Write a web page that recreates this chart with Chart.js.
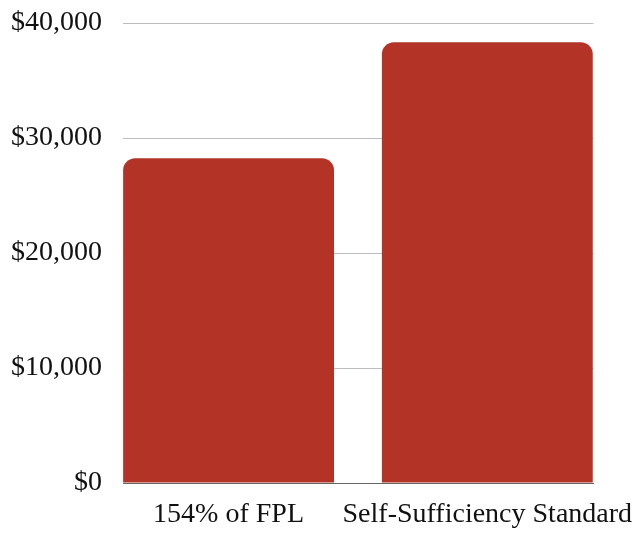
<!DOCTYPE html>
<html>
<head>
<meta charset="utf-8">
<script src="https://cdn.jsdelivr.net/npm/chart.js@4"></script>
<style>
  html, body { margin: 0; padding: 0; background: #ffffff; }
  #wrap { width: 635px; height: 534px; position: relative; }
</style>
</head>
<body>
<div id="wrap"><canvas id="c"></canvas></div>
<script>
const categories = ['154% of FPL', 'Self-Sufficiency Standard'];
const values = [28250, 38320];
const yTicks = [0, 10000, 20000, 30000, 40000];

const FONT = "'Liberation Serif', 'Times New Roman', serif";
const points = categories.map((c, i) => ({ x: i, y: values[i] }));

new Chart(document.getElementById('c'), {
  type: 'bar',
  data: {
    datasets: [{
      data: points,
      backgroundColor: '#b33427',
      borderRadius: { topLeft: 12, topRight: 12, bottomLeft: 0, bottomRight: 0 },
      borderSkipped: false,
      categoryPercentage: 1,
      barPercentage: 0.815
    }]
  },
  options: {
    responsive: true,
    maintainAspectRatio: false,
    animation: false,
    layout: { padding: { top: 23, right: 13, left: 11, bottom: 5 } },
    plugins: { legend: { display: false }, tooltip: { enabled: false } },
    scales: {
      x: {
        type: 'linear',
        offset: false,
        min: -0.408,
        max: 1.41,
        afterBuildTicks: (axis) => { axis.ticks = categories.map((c, i) => ({ value: i })); },
        ticks: {
          autoSkip: false,
          maxRotation: 0,
          padding: 0,
          color: '#111',
          font: { family: FONT, size: 28, lineHeight: 1 },
          callback: (v) => categories[v]
        },
        grid: {
          display: true,
          drawOnChartArea: false,
          drawTicks: true,
          tickLength: 18,
          tickColor: 'rgba(0,0,0,0)',
          offset: false
        },
        border: { display: true, color: '#666', width: 1 }
      },
      y: {
        min: 0,
        max: 40000,
        afterBuildTicks: (axis) => { axis.ticks = yTicks.map(v => ({ value: v })); },
        ticks: {
          padding: 0,
          color: '#111',
          font: { family: FONT, size: 28, lineHeight: 1 },
          callback: (v) => '$' + v.toLocaleString('en-US')
        },
        grid: {
          color: '#bdbdbd',
          lineWidth: 1,
          drawTicks: true,
          tickLength: 21,
          tickColor: 'rgba(0,0,0,0)'
        },
        border: { display: false }
      }
    }
  }
});
</script>
</body>
</html>
